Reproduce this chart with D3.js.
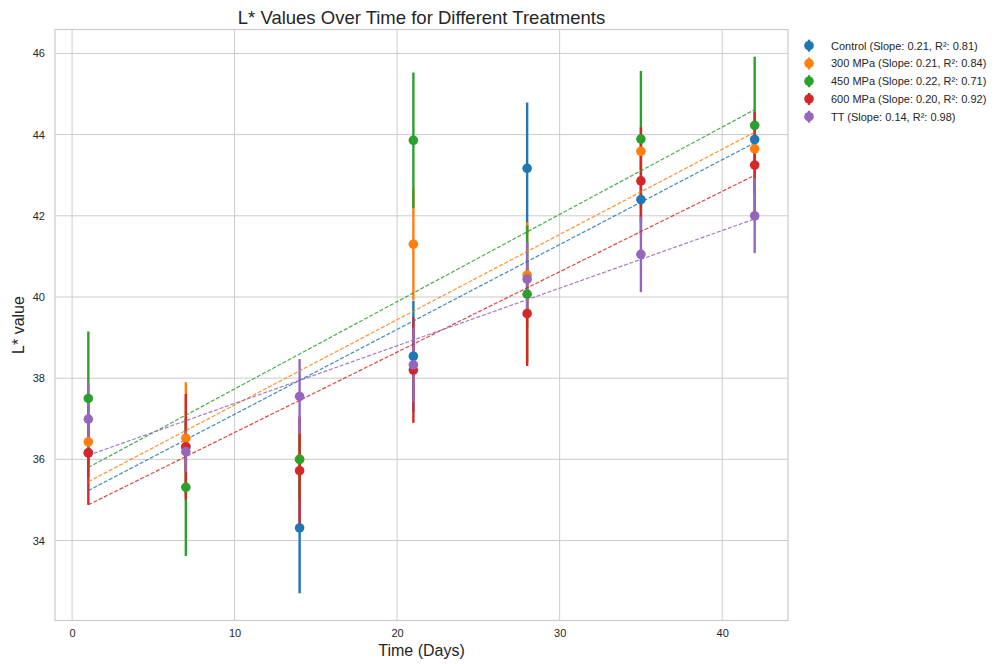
<!DOCTYPE html>
<html>
<head>
<meta charset="utf-8">
<script src="https://cdn.jsdelivr.net/npm/d3@7"></script>
<style>
  html, body { margin: 0; padding: 0; background: #fff; }
  svg { display: block; font-family: "Liberation Sans", Arial, sans-serif; }
</style>
</head>
<body>
<svg id="chart" width="1002" height="664"></svg>
<script>
// Sampling days
const days = [1, 7, 14, 21, 28, 35, 42];

// Treatment names, in drawing order
const treatments = ["Control", "300 MPa", "450 MPa", "600 MPa", "TT"];
const colors = ["#1f77b4", "#ff7f0e", "#2ca02c", "#d62728", "#9467bd"];

// Mean L* per treatment and day
const controlMean = [36.16, 36.31, 34.31, 38.54, 43.17, 42.40, 43.88];
const mpa300Mean  = [36.43, 36.52, 36.00, 41.30, 40.54, 43.59, 43.65];
const mpa450Mean  = [37.50, 35.31, 36.00, 43.86, 40.07, 43.89, 44.23];
const mpa600Mean  = [36.16, 36.31, 35.72, 38.20, 39.59, 42.86, 43.25];
const ttMean      = [36.99, 36.19, 37.55, 38.33, 40.44, 41.05, 42.00];

// Standard deviation per treatment and day
const controlSd = [0.60, 0.60, 1.61, 1.37, 1.62, 0.55, 0.50];
const mpa300Sd  = [0.50, 1.38, 0.60, 1.37, 1.30, 0.45, 0.45];
const mpa450Sd  = [1.65, 1.69, 1.00, 1.67, 1.69, 1.68, 1.69];
const mpa600Sd  = [1.28, 1.30, 1.34, 1.30, 1.29, 1.32, 1.31];
const ttSd      = [0.90, 0.50, 0.92, 0.91, 0.92, 0.93, 0.92];

// Linear trend per treatment: slope, intercept, R²
const trendSlope     = [0.209, 0.210, 0.215, 0.198, 0.142];
const trendIntercept = [35.021, 35.240, 35.585, 34.682, 35.958];
const slopeLabels = ["0.21", "0.21", "0.22", "0.20", "0.14"];
const r2Labels    = ["0.81", "0.84", "0.71", "0.92", "0.98"];

// Axis ticks
const xTicks = [0, 10, 20, 30, 40];
const yTicks = [34, 36, 38, 40, 42, 44, 46];

const means = [controlMean, mpa300Mean, mpa450Mean, mpa600Mean, ttMean];
const sds = [controlSd, mpa300Sd, mpa450Sd, mpa600Sd, ttSd];

const svg = d3.select("#chart");
const plot = { left: 55, right: 788, top: 29.5, bottom: 620.5 };

const x = d3.scaleLinear().domain([-1.05, 44.05]).range([plot.left, plot.right]);
const y = d3.scaleLinear().domain([32.03, 46.59]).range([plot.bottom, plot.top]);

const gridColor = "#cccccc";
const textColor = "#262626";

// Grid
const grid = svg.append("g");
grid.selectAll(".gx").data(xTicks).join("line")
  .attr("x1", d => x(d)).attr("x2", d => x(d))
  .attr("y1", plot.top).attr("y2", plot.bottom)
  .attr("stroke", gridColor).attr("stroke-width", 1);
grid.selectAll(".gy").data(yTicks).join("line")
  .attr("x1", plot.left).attr("x2", plot.right)
  .attr("y1", d => y(d)).attr("y2", d => y(d))
  .attr("stroke", gridColor).attr("stroke-width", 1);

// Frame
svg.append("rect")
  .attr("x", plot.left).attr("y", plot.top)
  .attr("width", plot.right - plot.left).attr("height", plot.bottom - plot.top)
  .attr("fill", "none").attr("stroke", gridColor).attr("stroke-width", 1.2);

// Axes (labels only, whitegrid style)
const xAxis = svg.append("g")
  .attr("transform", `translate(0,${plot.bottom})`)
  .call(d3.axisBottom(x).tickValues(xTicks).tickSize(0).tickPadding(9));
const yAxis = svg.append("g")
  .attr("transform", `translate(${plot.left},0)`)
  .call(d3.axisLeft(y).tickValues(yTicks).tickSize(0).tickPadding(10));
[xAxis, yAxis].forEach(a => {
  a.select(".domain").remove();
  a.selectAll("text").attr("fill", textColor)
    .style("font-size", "11px").style("font-family", "Liberation Sans, Arial, sans-serif");
});

const pointsOf = i => days.map((d, j) => ({ d, m: means[i][j], s: sds[i][j] }));

// Error bars sit below the trend lines, markers on top of everything
const barLayer = svg.append("g");
const trendLayer = svg.append("g");
const markerLayer = svg.append("g");

treatments.forEach((name, i) => {
  const pts = pointsOf(i);
  barLayer.append("g").selectAll("line").data(pts).join("line")
    .attr("x1", p => x(p.d)).attr("x2", p => x(p.d))
    .attr("y1", p => y(p.m - p.s)).attr("y2", p => y(p.m + p.s))
    .attr("stroke", colors[i]).attr("stroke-width", 2.4);

  const x0 = days[0], x1 = days[days.length - 1];
  trendLayer.append("line")
    .attr("x1", x(x0)).attr("y1", y(trendIntercept[i] + trendSlope[i] * x0))
    .attr("x2", x(x1)).attr("y2", y(trendIntercept[i] + trendSlope[i] * x1))
    .attr("stroke", colors[i]).attr("stroke-width", 1.2)
    .attr("stroke-dasharray", "4,1.8").attr("opacity", 0.85);

  markerLayer.append("g").selectAll("circle").data(pts).join("circle")
    .attr("cx", p => x(p.d)).attr("cy", p => y(p.m)).attr("r", 4.8)
    .attr("fill", colors[i]);
});

// Title and axis labels
svg.append("text").attr("x", x(21.5)).attr("y", 24)
  .attr("text-anchor", "middle").attr("fill", textColor)
  .style("font-size", "18.5px").text("L* Values Over Time for Different Treatments");
svg.append("text").attr("x", x(21.5)).attr("y", 656)
  .attr("text-anchor", "middle").attr("fill", textColor)
  .style("font-size", "16px").text("Time (Days)");
svg.append("text")
  .attr("transform", `translate(24,${(plot.top + plot.bottom) / 2}) rotate(-90)`)
  .attr("text-anchor", "middle").attr("fill", textColor)
  .style("font-size", "16px").text("L* value");

// Legend
const legend = svg.append("g").attr("transform", "translate(809,45.7)");
treatments.forEach((name, i) => {
  const row = legend.append("g").attr("transform", `translate(0,${i * 17.75})`);
  row.append("line").attr("x1", 0).attr("x2", 0).attr("y1", -6).attr("y2", 6)
    .attr("stroke", colors[i]).attr("stroke-width", 2.4);
  row.append("circle").attr("r", 4.8).attr("fill", colors[i]);
  row.append("text").attr("x", 22).attr("y", 4)
    .attr("fill", textColor).style("font-size", "11px")
    .text(`${name} (Slope: ${slopeLabels[i]}, R²: ${r2Labels[i]})`);
});
</script>
</body>
</html>
